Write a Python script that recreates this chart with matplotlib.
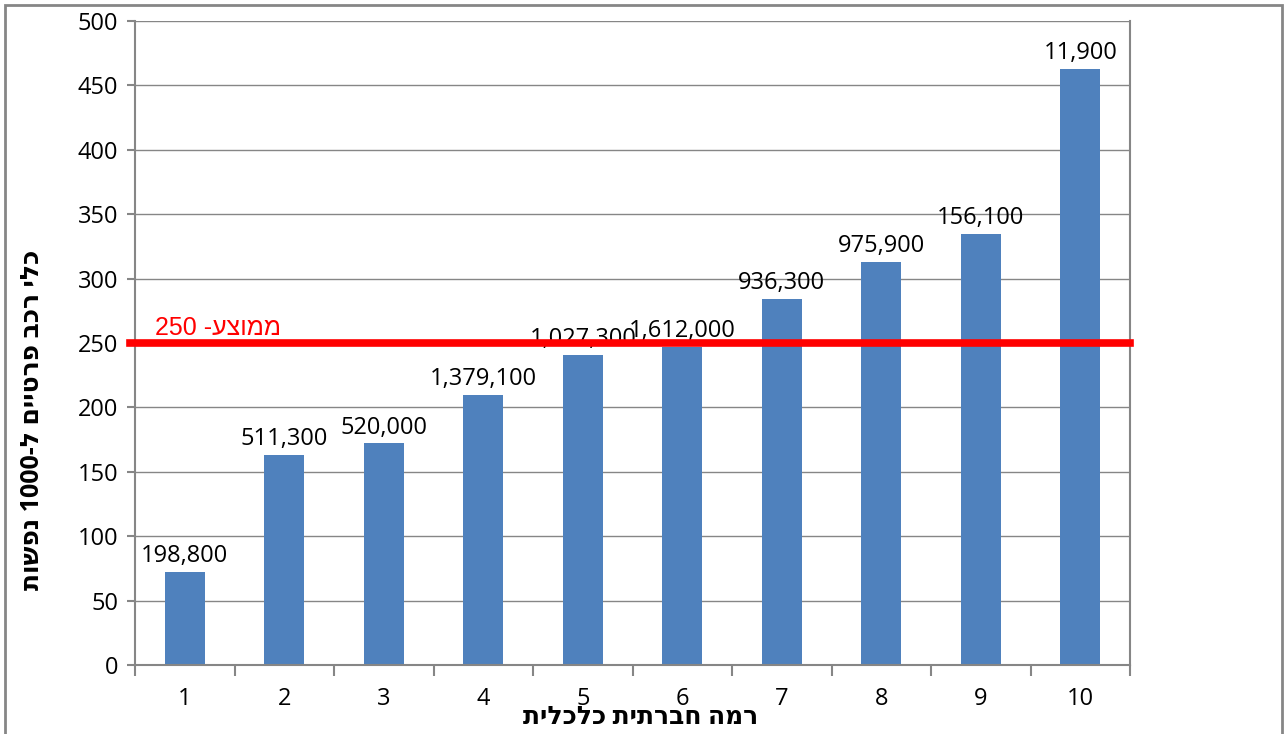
import numpy as np
import matplotlib
matplotlib.use("Agg")
import matplotlib.pyplot as plt

plt.rcParams['font.family'] = ['Open Sans', 'DejaVu Sans']

# data
levels = [1, 2, 3, 4, 5, 6, 7, 8, 9, 10]
cars_per_1000 = [72, 163, 172, 210, 241, 247, 284, 313, 335, 463]
population = ['198,800', '511,300', '520,000', '1,379,100', '1,027,300',
              '1,612,000', '936,300', '975,900', '156,100', '11,900']
average = 250

# hebrew strings (visual order, matplotlib has no bidi)
avg_label = '250 -' + 'ממוצע'[::-1]
xlab = 'רמה חברתית כלכלית'[::-1]
ylab = 'תושפנ 1000-ל םייטרפ בכר ילכ'

grid_c = '#868686'

fig = plt.figure(figsize=(12.84, 7.34), dpi=100)
# outer chart frame
fig.patches.append(plt.Rectangle((5/1284, -0.01), 1277/1284, 1 - 5/734 + 0.01,
                                 transform=fig.transFigure, fill=False,
                                 edgecolor=grid_c, lw=2))
ax = fig.add_axes([135/1284, 1 - 665/734, 995/1284, 644/734])

ax.bar(levels, cars_per_1000, width=0.4, color='#4F81BD', zorder=2)
for x, v, t in zip(levels, cars_per_1000, population):
    ax.text(x, v + 3, t, ha='center', va='bottom', fontsize=17, zorder=3)

ax.plot([0.45, 10.5], [average, average], color='#FF0000', lw=5.5,
        clip_on=False, zorder=4)
ax.text(0.7, average + 2, avg_label, color='#FF0000', fontsize=18,
        family=['Liberation Sans', 'DejaVu Sans'],
        ha='left', va='bottom', zorder=5)

ax.set_xlim(0.5, 10.5)
ax.set_ylim(0, 500)
ax.set_yticks(np.arange(0, 501, 50))
ax.set_xticks(levels)
ax.set_xticks(np.arange(0.5, 10.6, 1), minor=True)
ax.yaxis.grid(True, color=grid_c, lw=1, zorder=0)
ax.set_axisbelow(True)

for s in ['left', 'bottom', 'right']:
    ax.spines[s].set_color(grid_c)
    ax.spines[s].set_linewidth(1.5)
ax.spines['top'].set_visible(False)

ax.tick_params(axis='y', length=6, color=grid_c, width=1.5, labelsize=17, pad=6)
ax.tick_params(axis='x', which='major', length=0, labelsize=17, pad=16)
ax.tick_params(axis='x', which='minor', length=8, color=grid_c, width=1.5)

ax.set_xlabel(xlab, fontsize=18, fontweight='bold')
ax.xaxis.label.set_va('center')
ax.xaxis.set_label_coords(0.508, -0.081)
ax.set_ylabel(ylab, fontsize=18, fontweight='bold')
ax.yaxis.label.set_va('center')
ax.yaxis.set_label_coords(-0.1035, 0.38)

fig.savefig('out.png', dpi=100)
